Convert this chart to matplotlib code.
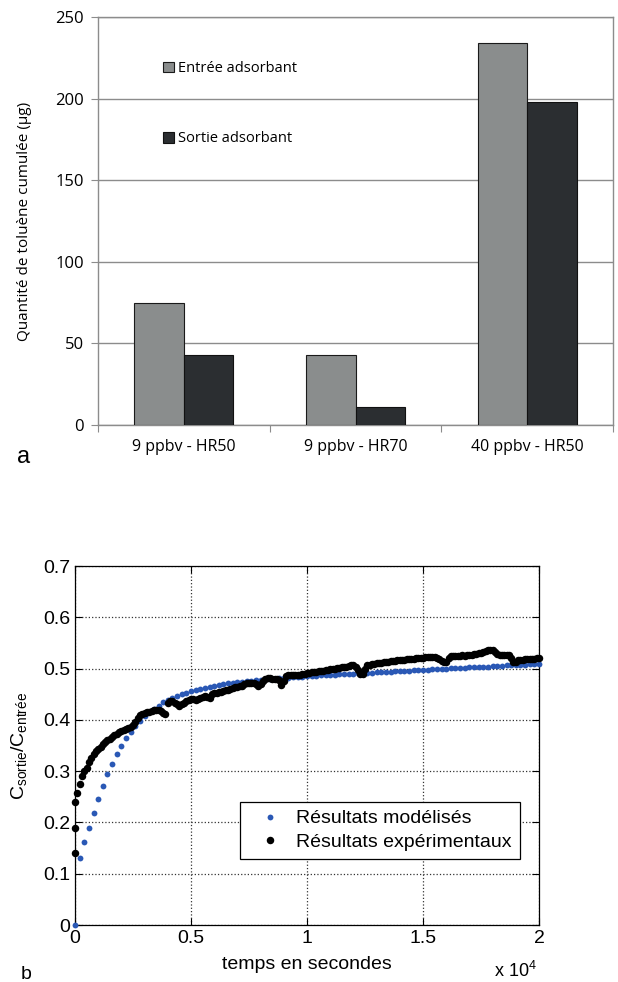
import matplotlib.pyplot as plt
from matplotlib.patches import Patch
import numpy as np

# --- panel a : bars ---
categories = ["9 ppbv - HR50", "9 ppbv - HR70", "40 ppbv - HR50"]
entree = [75, 43, 234]
sortie = [43, 11, 198]

# --- panel b : breakthrough curves ---
model_dt = 200   # s between modelled points
model_vals = [
    0.000, 0.130, 0.162, 0.190, 0.219, 0.245, 0.271, 0.294, 0.314, 0.333,
    0.350, 0.365, 0.377, 0.388, 0.398, 0.407, 0.415, 0.422, 0.428, 0.434,
    0.439, 0.443, 0.447, 0.450, 0.453, 0.456, 0.459, 0.461, 0.463, 0.465,
    0.467, 0.468, 0.469, 0.471, 0.472, 0.473, 0.474, 0.475, 0.476, 0.477,
    0.478, 0.479, 0.479, 0.480, 0.481, 0.482, 0.482, 0.483, 0.484, 0.484,
    0.485, 0.486, 0.486, 0.487, 0.487, 0.488, 0.488, 0.489, 0.489, 0.490,
    0.490, 0.491, 0.491, 0.492, 0.492, 0.493, 0.493, 0.494, 0.494, 0.495,
    0.495, 0.496, 0.496, 0.497, 0.497, 0.498, 0.498, 0.499, 0.499, 0.500,
    0.500, 0.501, 0.501, 0.502, 0.502, 0.503, 0.503, 0.503, 0.504, 0.504,
    0.505, 0.505, 0.505, 0.506, 0.506, 0.507, 0.507, 0.507, 0.508, 0.508,
    0.508,
]

exp_dt = 100     # s between measured points
exp_first = [0.14, 0.19]   # extra readings at t = 0
exp_vals = [
    0.240, 0.258, 0.275, 0.290, 0.300, 0.307, 0.318, 0.326, 0.333, 0.340,
    0.344, 0.348, 0.352, 0.357, 0.360, 0.363, 0.367, 0.370, 0.373, 0.376,
    0.378, 0.381, 0.383, 0.385, 0.386, 0.390, 0.395, 0.403, 0.409, 0.412,
    0.414, 0.415, 0.416, 0.418, 0.419, 0.420, 0.419, 0.417, 0.414, 0.412,
    0.432, 0.437, 0.436, 0.433, 0.430, 0.428, 0.430, 0.433, 0.436, 0.438,
    0.440, 0.441, 0.438, 0.440, 0.443, 0.445, 0.446, 0.444, 0.443, 0.450,
    0.452, 0.453, 0.454, 0.455, 0.456, 0.458, 0.458, 0.460, 0.462, 0.464,
    0.465, 0.466, 0.467, 0.469, 0.471, 0.472, 0.471, 0.472, 0.470, 0.466,
    0.470, 0.476, 0.480, 0.481, 0.481, 0.480, 0.480, 0.479, 0.478, 0.468,
    0.476, 0.485, 0.487, 0.488, 0.488, 0.487, 0.488, 0.488, 0.489, 0.490,
    0.491, 0.492, 0.493, 0.494, 0.494, 0.495, 0.496, 0.496, 0.497, 0.498,
    0.499, 0.500, 0.500, 0.501, 0.502, 0.503, 0.503, 0.504, 0.505, 0.506,
    0.506, 0.504, 0.498, 0.490, 0.489, 0.500, 0.506, 0.507, 0.508, 0.509,
    0.510, 0.510, 0.511, 0.512, 0.512, 0.513, 0.514, 0.514, 0.515, 0.516,
    0.516, 0.517, 0.517, 0.518, 0.518, 0.519, 0.519, 0.520, 0.520, 0.521,
    0.521, 0.522, 0.522, 0.522, 0.523, 0.522, 0.520, 0.518, 0.515, 0.513,
    0.513, 0.520, 0.524, 0.525, 0.525, 0.525, 0.525, 0.526, 0.525, 0.526,
    0.527, 0.527, 0.528, 0.529, 0.530, 0.531, 0.532, 0.534, 0.536, 0.537,
    0.536, 0.532, 0.528, 0.526, 0.526, 0.527, 0.527, 0.526, 0.520, 0.512,
    0.513, 0.516, 0.517, 0.517, 0.518, 0.518, 0.519, 0.519, 0.519, 0.520,
    0.520,
]

gray_bar = '#8a8d8d'
dark_bar = '#2b2e31'
grid_gray = '#8c8c8c'
excel_font = 'Open Sans'
matlab_font = 'Liberation Sans'

fig = plt.figure(figsize=(6.18, 9.82), dpi=100)

# ================= panel a =================
ax1 = fig.add_axes([0.1586, 0.5672, 0.8333, 0.4155])
x = np.arange(len(categories))
w = 0.289
ax1.bar(x - w / 2, entree, w, color=gray_bar, edgecolor='#1a1a1a', lw=0.8, zorder=3)
ax1.bar(x + w / 2, sortie, w, color=dark_bar, edgecolor='#111111', lw=0.8, zorder=3)

ax1.set_xlim(-0.5, 2.5)
ax1.set_ylim(0, 250)
ax1.set_yticks([0, 50, 100, 150, 200, 250])
ax1.yaxis.grid(True, color=grid_gray, lw=1, zorder=0)
ax1.set_axisbelow(True)
for s in ax1.spines.values():
    s.set_color(grid_gray)
    s.set_linewidth(1)

ax1.set_xticks([-0.5, 0.5, 1.5, 2.5])
ax1.set_xticklabels([])
ax1.set_xticks(x, minor=True)
ax1.set_xticklabels(categories, minor=True, fontfamily=excel_font, fontsize=11.5)
ax1.tick_params(axis='x', which='major', length=5, color=grid_gray)
ax1.tick_params(axis='x', which='minor', length=0, pad=10)
ax1.tick_params(axis='y', length=5, color=grid_gray, pad=5, labelsize=12)
for lab in ax1.get_yticklabels():
    lab.set_fontfamily(excel_font)

ax1.set_ylabel('Quantité de toluène cumulée (µg)', fontfamily=excel_font,
               fontsize=11, va='center')
ax1.yaxis.set_label_coords(-0.142, 0.5)

handles = [Patch(facecolor=gray_bar, edgecolor='#1a1a1a', lw=0.8),
           Patch(facecolor=dark_bar, edgecolor='#111111', lw=0.8)]
ax1.legend(handles, ['Entrée adsorbant', 'Sortie adsorbant'], loc='upper left',
           bbox_to_anchor=(0.112, 0.91), frameon=False, borderpad=0,
           handlelength=0.75, handleheight=0.75, handletextpad=0.3,
           labelspacing=3.8, prop={'family': excel_font, 'size': 10.5})

fig.text(17 / 618, 1 - 457 / 982, 'a', fontsize=17, fontfamily=matlab_font, va='center')

# ================= panel b =================
ax2 = fig.add_axes([0.12136, 0.05804, 0.75081, 0.36558])
t_model = np.arange(len(model_vals)) * model_dt
t_exp = np.arange(len(exp_vals)) * exp_dt
ax2.plot(t_model, model_vals, 'o', color='#2a58b5', ms=4.2, mec='none',
         clip_on=False, zorder=3, label='Résultats modélisés')
ax2.plot(np.r_[np.zeros(len(exp_first)), t_exp], np.r_[exp_first, exp_vals], 'o',
         color='black', ms=5.4, mec='none', clip_on=False, zorder=4,
         label='Résultats expérimentaux')

ax2.set_xlim(0, 20000)
ax2.set_ylim(0, 0.7)
ax2.set_xticks([0, 5000, 10000, 15000, 20000])
ax2.set_xticklabels(['0', '0.5', '1', '1.5', '2'])
ax2.set_yticks([0, 0.1, 0.2, 0.3, 0.4, 0.5, 0.6, 0.7])
ax2.set_yticklabels(['0', '0.1', '0.2', '0.3', '0.4', '0.5', '0.6', '0.7'])
ax2.grid(True, ls=':', color='#333333', lw=0.9)
ax2.tick_params(direction='in', top=True, right=True, length=5, width=0.8,
                labelsize=14, pad=3.5)
for lab in ax2.get_xticklabels() + ax2.get_yticklabels():
    lab.set_fontfamily(matlab_font)
for s in ax2.spines.values():
    s.set_linewidth(0.9)

ax2.set_xlabel('temps en secondes', fontfamily=matlab_font, fontsize=14, va='center')
ax2.xaxis.set_label_coords(0.5, -0.111)
ax2.set_ylabel(r'C$_{\mathregular{sortie}}$/C$_{\mathregular{entrée}}$',
               fontfamily=matlab_font, fontsize=14, va='center')
ax2.yaxis.set_label_coords(-0.1185, 0.5)

leg = ax2.legend(loc='upper left', bbox_to_anchor=((240 - 75) / 464, (925 - 802) / 359),
                 borderaxespad=0, borderpad=0.4, handlelength=2.3, handletextpad=0.2,
                 labelspacing=0.3, fancybox=False, framealpha=1, edgecolor='black',
                 prop={'family': matlab_font, 'size': 14})
leg.get_frame().set_linewidth(0.9)

fig.text(537 / 618, 1 - 971 / 982, r'x 10$^{\mathregular{4}}$', ha='right', va='center',
         fontsize=13, fontfamily=matlab_font)
fig.text(21 / 618, 1 - 966 / 982, 'b', fontsize=14, fontfamily=matlab_font, va='top')

fig.savefig('out.png', dpi=100)
